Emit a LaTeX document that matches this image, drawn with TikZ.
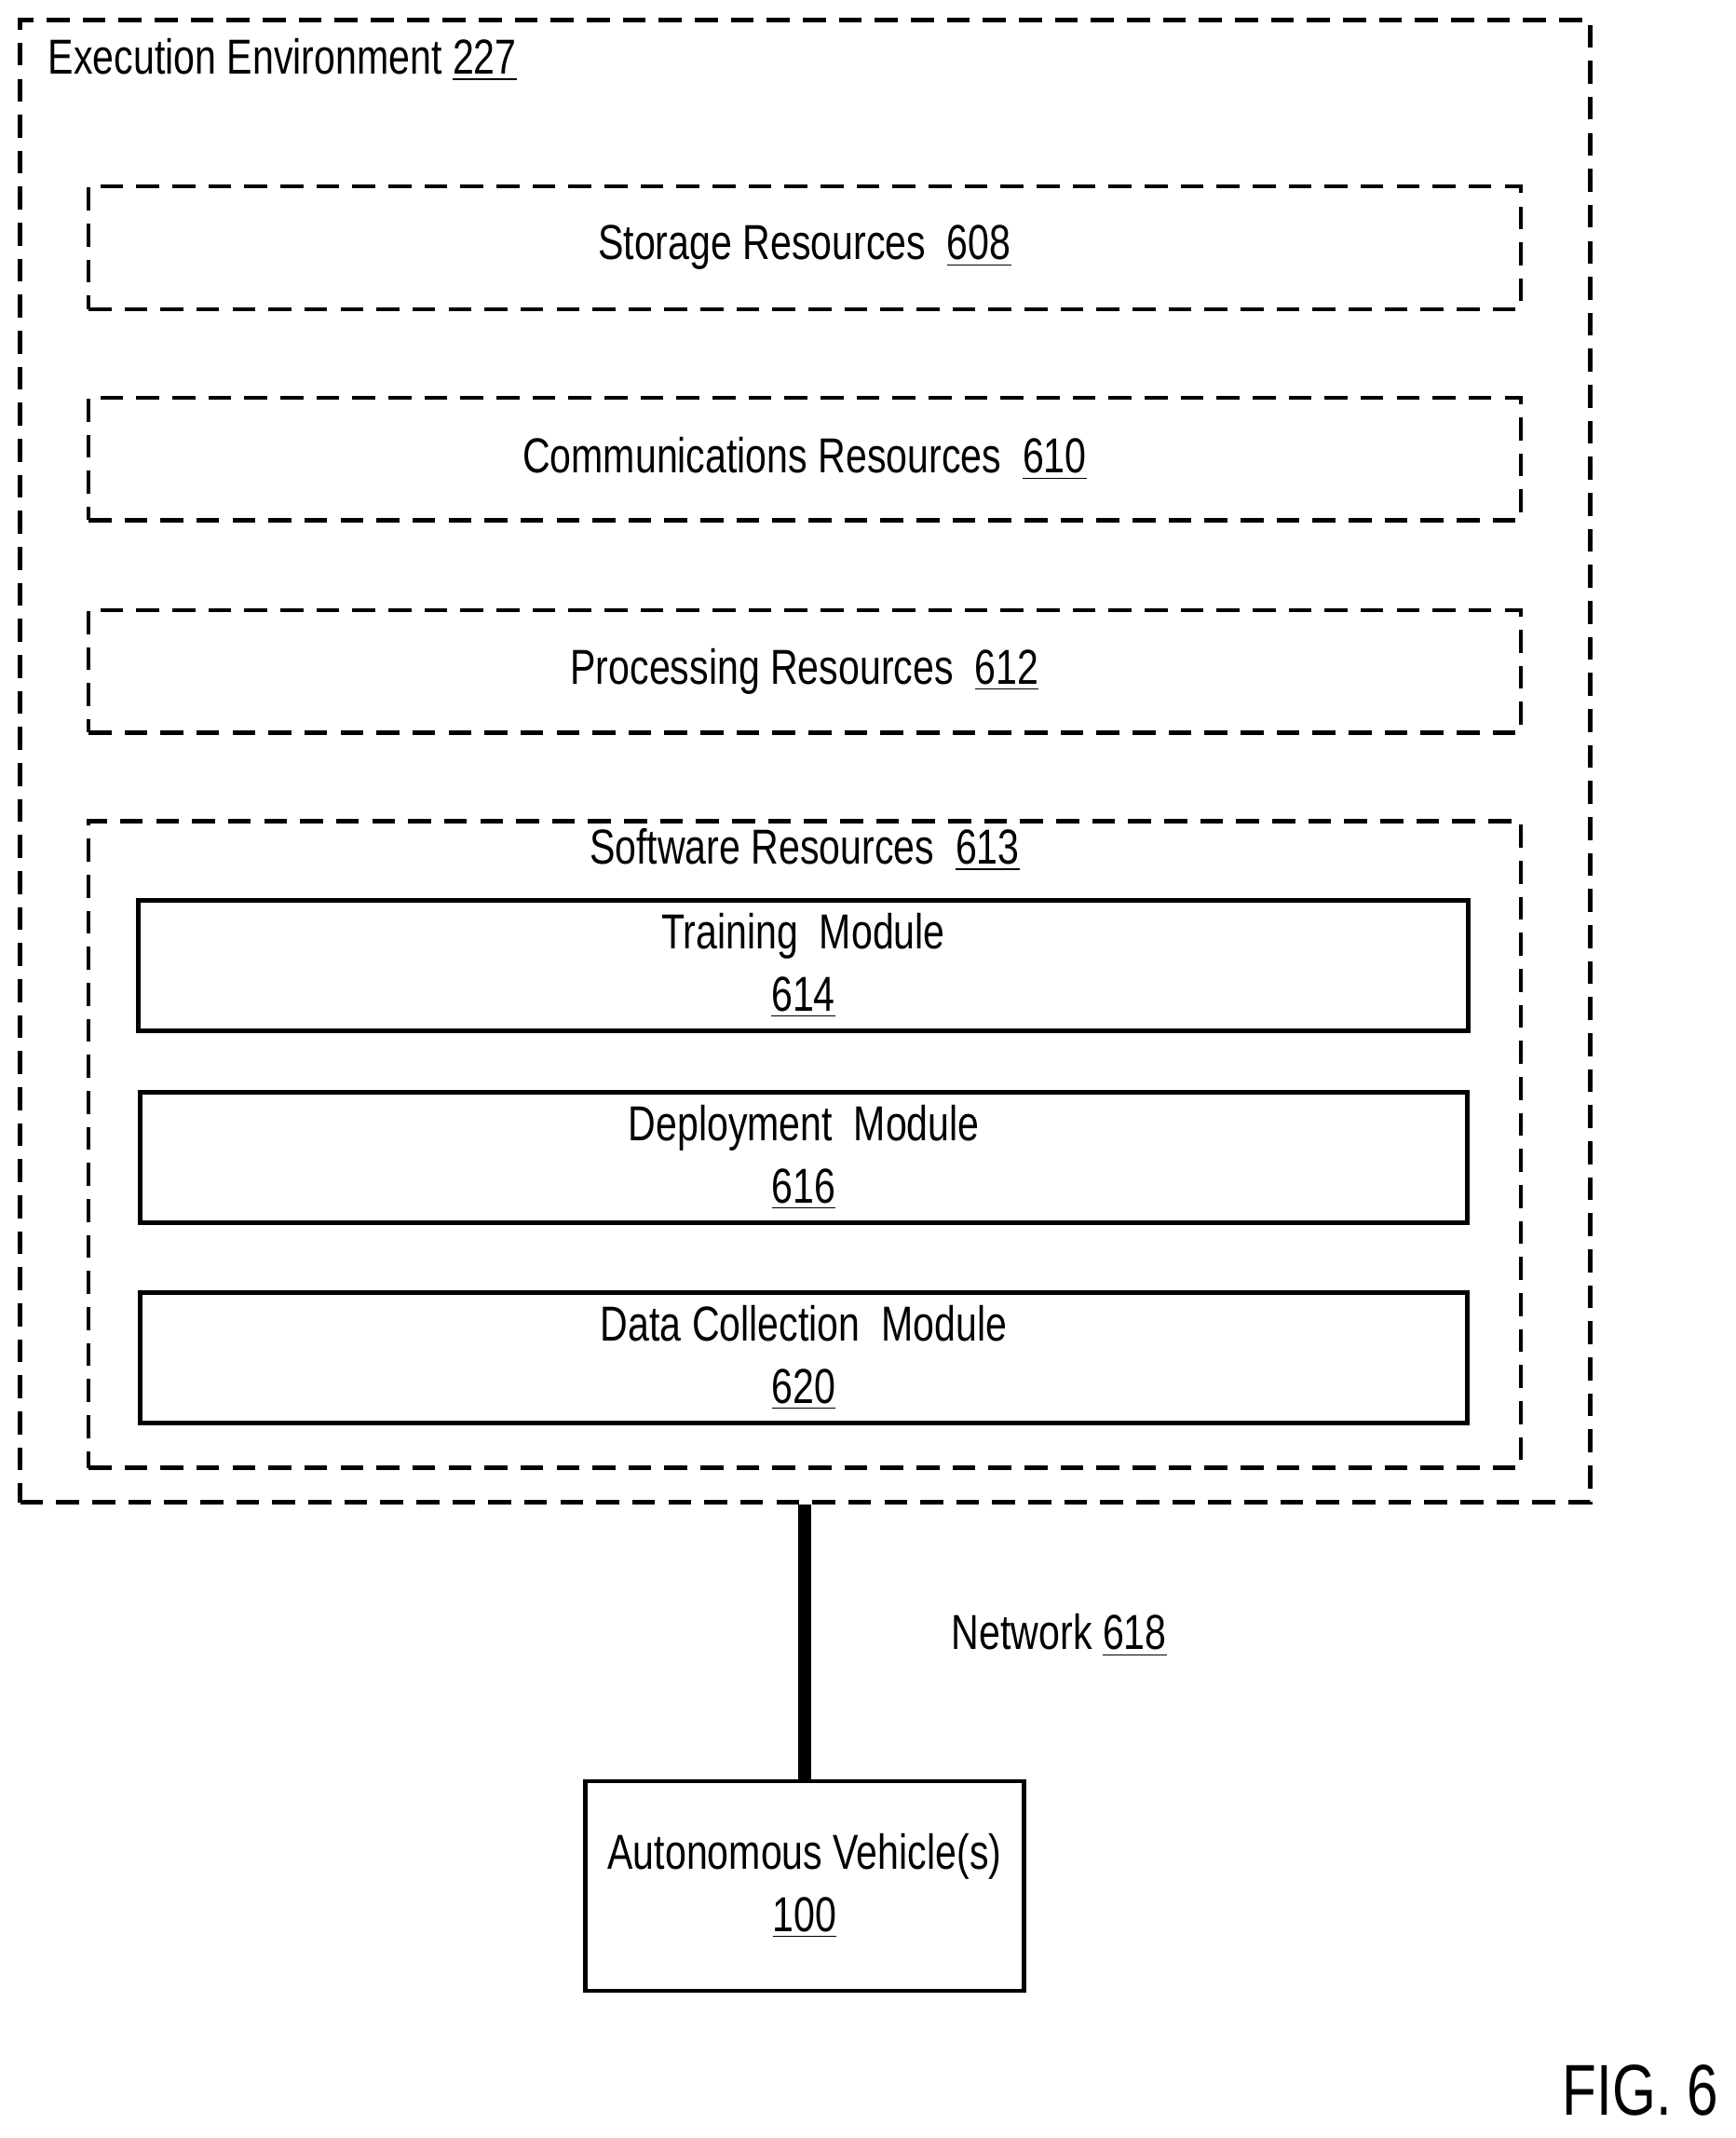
\documentclass[tikz,border=0pt]{standalone}
\usepackage{fontspec}
\setmainfont{Liberation Sans}[FakeStretch=0.78]
\usetikzlibrary{positioning}
\begin{document}
\begin{tikzpicture}[x=0.01462cm,y=-0.01462cm,
    dbox/.style={draw,dashed,line width=1.25pt,dash pattern=on 7pt off 4pt},
    sbox/.style={draw,line width=1.3pt,align=center},
    every node/.style={font=\fontsize{15}{19}\selectfont,inner sep=0pt}]
        \useasboundingbox (0,0) rectangle (1275,1570);
        \node[dbox,minimum width=16.86cm,minimum height=15.91cm] (env) at (591.5,559) {};
        \node[anchor=west] (envl) at (35,44) {Execution Environment \underline{227}};
        \node[dbox,minimum width=15.38cm,minimum height=1.316cm] (sto) at (591,182) {Storage Resources\ \ \underline{608}};
        \node[dbox,minimum width=15.38cm,minimum height=1.316cm] (com) at (591,337) {Communications Resources\ \ \underline{610}};
        \node[dbox,minimum width=15.38cm,minimum height=1.316cm] (pro) at (591,493) {Processing Resources\ \ \underline{612}};
        \node[dbox,minimum width=15.38cm,minimum height=6.94cm] (sw) at (591,840.5) {};
        \node (swl) at (591,624) {Software Resources\ \ \underline{613}};
        \node[sbox,minimum width=14.28cm,minimum height=1.40cm] (train) at (590,709) {Training\ \ Module\\\underline{614}};
        \node[sbox,minimum width=14.25cm,minimum height=1.40cm] (dep) at (590.5,850) {Deployment\ \ Module\\\underline{616}};
        \node[sbox,minimum width=14.25cm,minimum height=1.40cm] (dat) at (590.5,997) {Data Collection\ \ Module\\\underline{620}};
        \node[sbox,minimum width=4.71cm,minimum height=2.25cm] (av) at (591,1385) {Autonomous Vehicle(s)\\\underline{100}};
        \draw[line width=4.2pt] (env.south -| av.north) -- (av.north);
        \node (net) at (778,1201) {Network \underline{618}};
        \node (fig) at (1205,1535) {\fontsize{22}{26}\selectfont FIG. 6};
\end{tikzpicture}
\end{document}
